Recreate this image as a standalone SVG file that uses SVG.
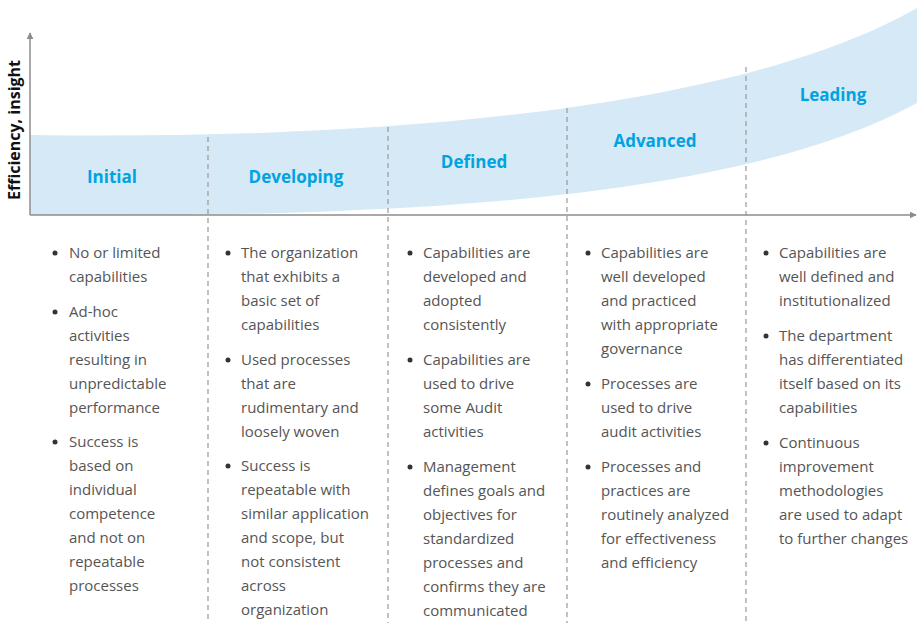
<svg xmlns="http://www.w3.org/2000/svg" width="917" height="623" viewBox="0 0 917 623">
<defs>
<style>
.stage{font-family:"Open Sans","Liberation Sans",sans-serif;font-weight:bold;font-size:17px;fill:#00a3e0;text-anchor:middle}
.body{font-family:"Open Sans","Liberation Sans",sans-serif;font-size:15px;fill:#555555}
.axis{stroke:#8c8c8c;stroke-width:1.5;fill:none}
.div{stroke:#999999;stroke-width:1.2;stroke-dasharray:5 4;fill:none}
.dot{fill:#333333}
.ylab{font-family:"Open Sans","Liberation Sans",sans-serif;font-weight:bold;font-size:16px;fill:#111111;text-anchor:middle}
</style>
<marker id="arr" viewBox="0 0 10 10" refX="9" refY="5" markerWidth="7" markerHeight="7" markerUnits="userSpaceOnUse" orient="auto">
<path d="M0,0 L10,5 L0,10 z" fill="#8c8c8c"/>
</marker>
</defs>
<rect width="917" height="623" fill="#ffffff"/>
<path id="band" d="M30,135 C350,140 730,115 917,8 L917,103 C740,200 400,218 30,215 Z" fill="#d5e9f7"/>
<g id="connectors">
<line class="axis" x1="30" y1="215" x2="30" y2="33" marker-end="url(#arr)"/>
<line class="axis" x1="30" y1="215" x2="916" y2="215" marker-end="url(#arr)"/>
<line class="div" x1="208" y1="137" x2="208" y2="623"/>
<line class="div" x1="388" y1="127" x2="388" y2="623"/>
<line class="div" x1="567" y1="108" x2="567" y2="623"/>
<line class="div" x1="746" y1="67" x2="746" y2="623"/>
</g>
<text class="ylab" transform="translate(20,130) rotate(-90)">Efficiency, insight</text>
<g id="initial">
<text class="stage" x="112" y="183">Initial</text>
<circle class="dot" cx="55" cy="253" r="2.5"/>
<circle class="dot" cx="55" cy="312" r="2.5"/>
<circle class="dot" cx="55" cy="442" r="2.5"/>
<text class="body"><tspan x="69" y="258">No or limited</tspan><tspan x="69" dy="24">capabilities</tspan></text>
<text class="body"><tspan x="69" y="317">Ad-hoc</tspan><tspan x="69" dy="24">activities</tspan><tspan x="69" dy="24">resulting in</tspan><tspan x="69" dy="24">unpredictable</tspan><tspan x="69" dy="24">performance</tspan></text>
<text class="body"><tspan x="69" y="447">Success is</tspan><tspan x="69" dy="24">based on</tspan><tspan x="69" dy="24">individual</tspan><tspan x="69" dy="24">competence</tspan><tspan x="69" dy="24">and not on</tspan><tspan x="69" dy="24">repeatable</tspan><tspan x="69" dy="24">processes</tspan></text>
</g>
<g id="developing">
<text class="stage" x="296" y="183">Developing</text>
<circle class="dot" cx="228" cy="253" r="2.5"/>
<circle class="dot" cx="228" cy="360" r="2.5"/>
<circle class="dot" cx="228" cy="466" r="2.5"/>
<text class="body"><tspan x="241" y="258">The organization</tspan><tspan x="241" dy="24">that exhibits a</tspan><tspan x="241" dy="24">basic set of</tspan><tspan x="241" dy="24">capabilities</tspan></text>
<text class="body"><tspan x="241" y="365">Used processes</tspan><tspan x="241" dy="24">that are</tspan><tspan x="241" dy="24">rudimentary and</tspan><tspan x="241" dy="24">loosely woven</tspan></text>
<text class="body"><tspan x="241" y="471">Success is</tspan><tspan x="241" dy="24">repeatable with</tspan><tspan x="241" dy="24">similar application</tspan><tspan x="241" dy="24">and scope, but</tspan><tspan x="241" dy="24">not consistent</tspan><tspan x="241" dy="24">across</tspan><tspan x="241" dy="24">organization</tspan></text>
</g>
<g id="defined">
<text class="stage" x="474" y="168">Defined</text>
<circle class="dot" cx="410" cy="253" r="2.5"/>
<circle class="dot" cx="410" cy="360" r="2.5"/>
<circle class="dot" cx="410" cy="467" r="2.5"/>
<text class="body"><tspan x="423" y="258">Capabilities are</tspan><tspan x="423" dy="24">developed and</tspan><tspan x="423" dy="24">adopted</tspan><tspan x="423" dy="24">consistently</tspan></text>
<text class="body"><tspan x="423" y="365">Capabilities are</tspan><tspan x="423" dy="24">used to drive</tspan><tspan x="423" dy="24">some Audit</tspan><tspan x="423" dy="24">activities</tspan></text>
<text class="body"><tspan x="423" y="472">Management</tspan><tspan x="423" dy="24">defines goals and</tspan><tspan x="423" dy="24">objectives for</tspan><tspan x="423" dy="24">standardized</tspan><tspan x="423" dy="24">processes and</tspan><tspan x="423" dy="24">confirms they are</tspan><tspan x="423" dy="24">communicated</tspan></text>
</g>
<g id="advanced">
<text class="stage" x="655" y="147">Advanced</text>
<circle class="dot" cx="588" cy="253" r="2.5"/>
<circle class="dot" cx="588" cy="384" r="2.5"/>
<circle class="dot" cx="588" cy="467" r="2.5"/>
<text class="body"><tspan x="601" y="258">Capabilities are</tspan><tspan x="601" dy="24">well developed</tspan><tspan x="601" dy="24">and practiced</tspan><tspan x="601" dy="24">with appropriate</tspan><tspan x="601" dy="24">governance</tspan></text>
<text class="body"><tspan x="601" y="389">Processes are</tspan><tspan x="601" dy="24">used to drive</tspan><tspan x="601" dy="24">audit activities</tspan></text>
<text class="body"><tspan x="601" y="472">Processes and</tspan><tspan x="601" dy="24">practices are</tspan><tspan x="601" dy="24">routinely analyzed</tspan><tspan x="601" dy="24">for effectiveness</tspan><tspan x="601" dy="24">and efficiency</tspan></text>
</g>
<g id="leading">
<text class="stage" x="833" y="101">Leading</text>
<circle class="dot" cx="766" cy="253" r="2.5"/>
<circle class="dot" cx="766" cy="336" r="2.5"/>
<circle class="dot" cx="766" cy="443" r="2.5"/>
<text class="body"><tspan x="779" y="258">Capabilities are</tspan><tspan x="779" dy="24">well defined and</tspan><tspan x="779" dy="24">institutionalized</tspan></text>
<text class="body"><tspan x="779" y="341">The department</tspan><tspan x="779" dy="24">has differentiated</tspan><tspan x="779" dy="24">itself based on its</tspan><tspan x="779" dy="24">capabilities</tspan></text>
<text class="body"><tspan x="779" y="448">Continuous</tspan><tspan x="779" dy="24">improvement</tspan><tspan x="779" dy="24">methodologies</tspan><tspan x="779" dy="24">are used to adapt</tspan><tspan x="779" dy="24">to further changes</tspan></text>
</g>
</svg>
